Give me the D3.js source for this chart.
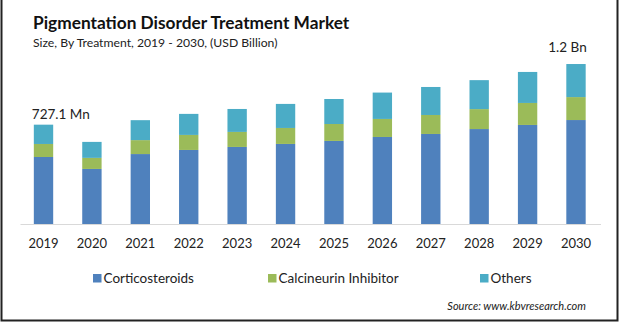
<!DOCTYPE html>
<html><head><meta charset="utf-8">
<script src="https://cdn.jsdelivr.net/npm/d3@7"></script>
<style>
html,body{margin:0;padding:0;background:#fff;}
svg{display:block;font-family:Lato, "Open Sans", sans-serif;}
</style></head>
<body>
<svg id="c" width="620" height="322"></svg>
<script>
const years = ["2019","2020","2021","2022","2023","2024","2025","2026","2027","2028","2029","2030"];
const corticosteroids = [490.5,403,512,542,564,586,608,637,659,695,725,761];
const calcineurin = [95.3,81,102,110,110,117,124,132,139,146,161,168];
const others = [141.3,117,146,154,168,176,183,193,205,212,227,242];
const seriesNames = ["Corticosteroids","Calcineurin Inhibitor","Others"];
const colors = ["#4f81bd","#9bbb59","#4bacc6"];
const firstLabel = "727.1 Mn";
const lastLabel = "1.2 Bn";

const svg = d3.select("#c");
const x = d3.scaleBand().domain(years).range([19.3,600.2]).paddingInner(0.6).paddingOuter(0.3);
const y = d3.scaleLinear().domain([0,1300]).range([224,46.4]);

const rows = years.map((yr,i)=>({year:yr, Corticosteroids:corticosteroids[i], "Calcineurin Inhibitor":calcineurin[i], Others:others[i]}));
const stack = d3.stack().keys(seriesNames)(rows);

svg.append("g").selectAll("g").data(stack).join("g")
  .attr("fill",(d,i)=>colors[i])
  .selectAll("rect").data(d=>d).join("rect")
  .attr("x",d=>x(d.data.year))
  .attr("width",x.bandwidth())
  .attr("y",d=>y(d[1]))
  .attr("height",d=>y(d[0])-y(d[1]));

// axis
const ax = svg.append("g").attr("transform","translate(0,224)")
  .call(d3.axisBottom(x).tickSize(0).tickPadding(15));
ax.select(".domain").attr("stroke","#d9d9d9").attr("stroke-width",1)
  .attr("d","M20.5,0.5H601");
ax.selectAll("text").attr("font-family","Lato, sans-serif").attr("font-size","13px").attr("fill","#222");

// value labels
const tot = i => corticosteroids[i]+calcineurin[i]+others[i];
svg.append("text").attr("x",x(years[0])-2).attr("y",y(tot(0))-6)
  .attr("font-size","13.5px").attr("fill","#222").text(firstLabel);
const n = years.length-1;
svg.append("text").attr("x",x(years[n])+x.bandwidth()+1).attr("y",y(tot(n))-12)
  .attr("text-anchor","end").attr("font-size","13.5px").attr("fill","#222").text(lastLabel);

// title
svg.append("text").attr("x",33).attr("y",29).attr("font-weight","bold").attr("font-size","17.3px").attr("fill","#111")
  .text("Pigmentation Disorder Treatment Market");
svg.append("text").attr("x",33).attr("y",47).attr("font-size","12.2px").attr("fill","#222")
  .text("Size, By Treatment, 2019 - 2030, (USD Billion)");

// legend
const legX = [93,268,480];
const lg = svg.append("g");
seriesNames.forEach((s,i)=>{
  lg.append("rect").attr("x",legX[i]).attr("y",274).attr("width",8.5).attr("height",8.5).attr("fill",colors[i]);
  lg.append("text").attr("x",legX[i]+10.5).attr("y",283).attr("font-size","13.5px").attr("fill","#222").text(s);
});

// source
svg.append("text").attr("x",586).attr("y",310).attr("text-anchor","end").attr("font-style","italic")
  .attr("font-size","11px").attr("fill","#222").text("Source: www.kbvresearch.com");

// frame
svg.append("path").attr("d","M1.5,0V320.5H617.5V0").attr("fill","none").attr("stroke","#222").attr("stroke-width",2);
</script>
</body></html>
